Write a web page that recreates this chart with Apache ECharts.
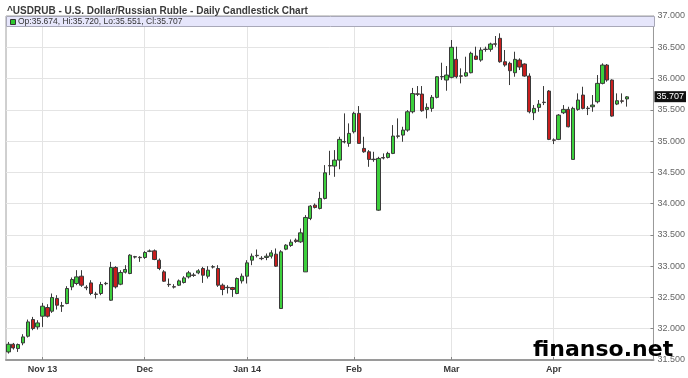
<!DOCTYPE html>
<html>
<head>
<meta charset="utf-8">
<script src="https://cdn.jsdelivr.net/npm/echarts@6/dist/echarts.min.js"></script>
<style>
html,body{margin:0;padding:0;background:#fff;}
#chart{width:688px;height:378px;}
</style>
</head>
<body>
<div id="chart"></div>
<script>
// Trading-day categories (weekdays from start, skipping listed holidays)
const startDate = '2013-10-23';
const holidays = ['2013-12-25', '2014-01-01'];
const slotCount = 133;

const tickDates = ['2013-11-01', '2013-12-02', '2014-01-02', '2014-02-03', '2014-03-03', '2014-04-01'];
const tickLabels = ['Nov 13', 'Dec', 'Jan 14', 'Feb', 'Mar', 'Apr'];

const opens = [
31.629,31.752,31.683,31.773,31.880,32.147,32.029,32.200,32.339,32.280,
32.483,32.360,32.403,32.669,32.723,32.840,32.664,32.733,32.555,32.563,
32.720,32.456,32.979,32.712,32.904,32.883,33.152,33.142,33.139,33.237,
33.245,33.096,32.909,32.710,32.672,32.696,32.739,32.829,32.859,32.893,
32.963,32.840,32.986,32.963,32.696,32.662,32.659,32.563,32.765,32.840,
33.096,33.168,33.126,33.139,33.160,33.192,32.323,33.272,33.331,33.416,
33.389,32.909,33.763,33.976,33.923,34.083,34.608,34.600,34.696,34.992,
34.963,35.149,35.443,34.883,34.829,34.710,33.896,34.736,34.739,34.803,
35.083,35.096,35.176,35.469,35.755,35.752,35.507,35.523,35.699,36.032,
35.976,36.019,36.307,36.043,36.040,36.093,36.360,36.296,36.470,36.467,
36.555,36.643,36.269,36.243,36.093,36.296,36.232,36.040,35.453,35.539,
35.622,35.800,35.019,35.027,35.453,35.507,34.707,35.507,35.736,35.526,
35.549,35.629,35.923,36.216,35.976,35.592,35.643,35.674];
const closes = [
31.752,31.693,31.747,31.869,32.109,32.003,32.093,32.360,32.200,32.499,
32.376,32.371,32.643,32.787,32.829,32.696,32.654,32.563,32.549,32.707,
32.726,32.979,32.669,32.899,32.947,33.176,33.146,33.136,33.219,33.243,
33.107,32.963,32.760,32.704,32.666,32.765,32.813,32.893,32.853,32.925,
32.856,32.936,32.992,32.696,32.627,32.656,32.627,32.803,32.840,33.053,
33.160,33.174,33.120,33.160,33.213,33.000,33.229,33.336,33.384,33.395,
33.533,33.779,33.960,33.939,34.083,34.493,34.602,34.696,35.027,34.986,
35.123,35.443,34.963,34.829,34.707,34.704,34.723,34.730,34.803,35.080,
35.077,35.176,35.469,35.760,35.749,35.485,35.539,35.699,36.029,36.026,
36.056,36.499,36.029,36.037,36.093,36.403,36.307,36.456,36.464,36.552,
36.549,36.269,36.216,36.125,36.307,36.184,36.040,35.469,35.523,35.592,
35.616,35.027,35.013,35.416,35.507,35.229,35.523,35.656,35.523,35.520,
35.576,35.923,36.216,35.976,35.400,35.645,35.637,35.707];
const lows = [
31.603,31.667,31.629,31.736,31.859,31.976,31.987,32.029,32.179,32.253,
32.307,32.269,32.392,32.616,32.696,32.669,32.616,32.536,32.483,32.536,
32.696,32.445,32.643,32.696,32.883,32.872,33.123,33.069,33.117,33.224,
33.096,32.936,32.749,32.669,32.643,32.685,32.723,32.803,32.829,32.872,
32.733,32.803,32.963,32.669,32.536,32.563,32.509,32.552,32.723,32.723,
33.016,33.139,33.096,33.096,33.123,32.989,32.323,33.256,33.309,33.373,
33.373,32.909,33.736,33.923,33.907,34.067,34.456,34.429,34.550,34.963,
34.909,35.123,34.963,34.813,34.589,34.669,33.885,34.707,34.723,34.792,
35.043,34.989,35.149,35.443,35.720,35.469,35.363,35.469,35.683,35.976,
35.805,36.003,36.003,35.923,36.029,36.083,36.296,36.269,36.429,36.429,
36.509,36.253,36.189,35.896,36.029,36.136,36.029,35.443,35.336,35.469,
35.576,35.016,34.952,35.016,35.432,35.219,34.707,35.485,35.507,35.416,
35.469,35.603,35.907,35.949,35.389,35.576,35.603,35.551];
const highs = [
31.789,31.773,31.763,31.912,32.147,32.189,32.136,32.413,32.392,32.563,
32.536,32.429,32.680,32.819,32.936,32.936,32.696,32.776,32.589,32.749,
32.749,33.069,33.000,32.936,33.016,33.192,33.165,33.160,33.240,33.267,
33.267,33.123,32.936,32.803,32.712,32.787,32.840,32.925,32.893,32.952,
32.989,33.000,33.016,33.016,32.723,32.696,32.669,32.819,32.883,33.096,
33.203,33.267,33.160,33.203,33.256,33.283,33.256,33.352,33.427,33.443,
33.603,33.816,33.976,34.003,34.189,34.616,34.845,34.856,35.069,35.443,
35.283,35.469,35.560,35.069,34.856,34.829,34.749,34.803,34.829,35.256,
35.363,35.229,35.496,35.850,35.880,35.880,35.603,35.736,36.040,36.253,
36.200,36.616,36.509,36.163,36.349,36.429,36.509,36.499,36.509,36.573,
36.680,36.723,36.456,36.269,36.429,36.323,36.243,36.083,35.576,35.656,
35.880,35.816,35.043,35.432,35.576,35.549,35.549,35.763,35.869,35.560,
35.736,36.056,36.243,36.232,35.987,35.763,35.763,35.720];

const last = {op: 35.674, hi: 35.720, lo: 35.551, cl: 35.707};

function pad(n){return n < 10 ? '0' + n : '' + n;}
function fmt(d){return d.getUTCFullYear() + '-' + pad(d.getUTCMonth() + 1) + '-' + pad(d.getUTCDate());}
const categories = [];
(function(){
  const d = new Date(startDate + 'T00:00:00Z');
  while (categories.length < slotCount) {
    const wd = d.getUTCDay();
    const s = fmt(d);
    if (wd !== 0 && wd !== 6 && holidays.indexOf(s) < 0) categories.push(s);
    d.setUTCDate(d.getUTCDate() + 1);
  }
})();

const candleData = categories.map((c, i) =>
  i < opens.length ? [opens[i], closes[i], lows[i], highs[i]] : '-');

const isTick = (idx, val) => tickDates.indexOf(val) >= 0;
const FONT = 'Liberation Sans, Arial, sans-serif';

const chart = echarts.init(document.getElementById('chart'), null, {renderer: 'canvas'});
chart.setOption({
  animation: false,
  backgroundColor: '#ffffff',
  title: {
    text: '^USDRUB - U.S. Dollar/Russian Ruble - Daily Candlestick Chart',
    left: 2, top: 1,
    textStyle: {fontSize: 10, fontWeight: 'bold', color: '#3a3a3a', fontFamily: FONT}
  },
  grid: {left: 6, right: 33, top: 16, bottom: 18, show: true, borderColor: '#a0a0a0', borderWidth: 1, backgroundColor: 'transparent'},
  xAxis: {
    type: 'category',
    data: categories,
    boundaryGap: true,
    axisLine: {show: true, lineStyle: {color: '#9a9a9a', width: 2}},
    axisTick: {show: true, interval: isTick, alignWithLabel: true, inside: true, length: 3, lineStyle: {color: '#888'}},
    axisLabel: {
      interval: isTick,
      formatter: (v) => tickLabels[tickDates.indexOf(v)],
      fontSize: 9, fontWeight: 'bold', color: '#3a3a3a', margin: 5, fontFamily: FONT
    },
    splitLine: {show: true, interval: isTick, alignWithLabel: true, lineStyle: {color: '#e4e4e4', width: 1}}
  },
  yAxis: {
    type: 'value',
    position: 'right',
    min: 31.5, max: 37, interval: 0.5,
    axisLine: {show: true, lineStyle: {color: '#9a9a9a', width: 1}},
    axisTick: {show: true, inside: true, length: 3, lineStyle: {color: '#888'}},
    axisLabel: {
      formatter: (v) => v.toFixed(3),
      fontSize: 9, color: '#666', margin: 4, fontFamily: FONT
    },
    splitLine: {show: true, lineStyle: {color: '#e4e4e4', width: 1}}
  },
  series: [{
    type: 'candlestick',
    data: candleData,
    barWidth: '78%',
    itemStyle: {
      color: '#3ccf3c', color0: '#c81e1e',
      borderColor: '#3a3a3a', borderColor0: '#3a3a3a', borderWidth: 1
    },
    markLine: {
      silent: true,
      symbol: ['none', 'none'],
      lineStyle: {color: 'rgba(0,0,0,0)', width: 0, type: 'solid'},
      label: {
        show: true, position: 'end', distance: 1,
        formatter: () => last.cl.toFixed(3),
        backgroundColor: '#111', color: '#fff', fontSize: 9, padding: [1, 2, 1, 2],
        fontFamily: FONT, opacity: 1
      },
      emphasis: {disabled: true},
      data: [{yAxis: last.cl}]
    }
  }],
  graphic: [
    {type: 'rect', z: 10, shape: {x: 6.5, y: 16.5, width: 648, height: 10}, style: {fill: '#e6e6fb', stroke: '#a8a8b8', lineWidth: 1}},
    {type: 'rect', z: 11, shape: {x: 10.5, y: 19.5, width: 5, height: 5}, style: {fill: '#2ec82e', stroke: '#333', lineWidth: 1}},
    {type: 'text', z: 11, x: 18, y: 21.5, style: {
      text: 'Op:' + last.op.toFixed(3) + ', Hi:' + last.hi.toFixed(3) + ', Lo:' + last.lo.toFixed(3) + ', Cl:' + last.cl.toFixed(3),
      fontSize: 8.5, fill: '#333', verticalAlign: 'middle', fontFamily: FONT}},
    {type: 'text', z: 20, x: 533, y: 350, style: {
      text: 'finanso.net', fontSize: 22, fontWeight: 'bold', fill: '#000',
      fontFamily: 'DejaVu Sans, Verdana, sans-serif', verticalAlign: 'middle'}}
  ]
});
</script>
</body>
</html>
